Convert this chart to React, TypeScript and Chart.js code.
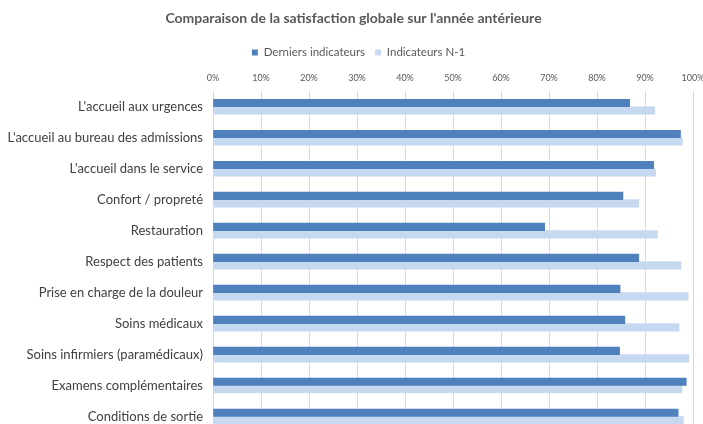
import React, { useEffect, useRef } from "react";
import { Chart, registerables } from "chart.js";

Chart.register(...registerables);

const categories = [
  "L'accueil aux urgences",
  "L'accueil au bureau des admissions",
  "L'accueil dans le service",
  "Confort / propreté",
  "Restauration",
  "Respect des patients",
  "Prise en charge de la douleur",
  "Soins médicaux",
  "Soins infirmiers (paramédicaux)",
  "Examens complémentaires",
  "Conditions de sortie",
];

const derniersIndicateurs = [0.868, 0.974, 0.918, 0.854, 0.691, 0.887, 0.848, 0.858, 0.847, 0.986, 0.969];
const indicateursN1 = [0.920, 0.978, 0.922, 0.887, 0.926, 0.975, 0.990, 0.971, 0.991, 0.977, 0.980];

const seriesNames = ["Derniers indicateurs", "Indicateurs N-1"];
const titleText = "Comparaison de la satisfaction globale sur l'année antérieure";

const shiftHeader = {
  id: "shiftHeader",
  afterLayout(chart: any) {
    if (chart.titleBlock) {
      chart.titleBlock.left += 7;
      chart.titleBlock.right += 7;
    }
    if (chart.legend) {
      chart.legend.left += 12;
      chart.legend.right += 12;
    }
  },
};

export default function App() {
  const ref = useRef<HTMLCanvasElement | null>(null);

  useEffect(() => {
    document.body.style.margin = "0";
    const canvas = ref.current;
    if (!canvas) return;
    const chart = new Chart(canvas, {
      type: "bar",
      data: {
        labels: categories,
        datasets: [
          {
            label: seriesNames[0],
            data: derniersIndicateurs,
            backgroundColor: "#4F81BD",
            barThickness: 7.5,
          },
          {
            label: seriesNames[1],
            data: indicateursN1,
            backgroundColor: "#C6D9F1",
            barThickness: 7.5,
          },
        ],
      },
      plugins: [shiftHeader],
      options: {
        indexAxis: "y",
        responsive: false,
        animation: false,
        devicePixelRatio: 1,
        layout: { padding: { left: 0, right: 10, top: 0, bottom: 8 } },
        plugins: {
          title: {
            display: true,
            text: titleText,
            color: "#595959",
            font: { family: "Lato", size: 14, weight: "bold" },
            padding: { top: 10, bottom: 10 },
          },
          legend: {
            display: true,
            position: "top",
            labels: {
              color: "#595959",
              font: { family: "Lato", size: 11.5 },
              boxWidth: 6,
              boxHeight: 6,
              padding: 10,
            },
          },
          tooltip: { enabled: false },
        },
        scales: {
          x: {
            position: "top",
            min: 0,
            max: 1,
            ticks: {
              stepSize: 0.1,
              color: "#595959",
              font: { family: "Lato", size: 9 },
              padding: 8,
              callback: (v: any) => Math.round(Number(v) * 100) + "%",
            },
            grid: { color: "#d9d9d9", drawTicks: false },
            border: { display: false },
            afterFit: (scale: any) => {
              scale.height = 23;
              scale.paddingLeft = 0;
              scale.paddingRight = 0;
            },
          },
          y: {
            ticks: {
              color: "#404040",
              font: { family: "Lato", size: 13 },
              padding: 10,
            },
            grid: { display: false, drawTicks: false },
            border: { display: true, color: "#d9d9d9" },
            afterFit: (scale: any) => {
              scale.width = 213;
              scale.paddingTop = 0;
              scale.paddingBottom = 0;
            },
          },
        },
      },
    });
    return () => chart.destroy();
  }, []);

  return (
    <div style={{ width: 703, height: 424, overflow: "hidden", background: "#fff" }}>
      <canvas ref={ref} width={703} height={440} style={{ display: "block" }} />
    </div>
  );
}
